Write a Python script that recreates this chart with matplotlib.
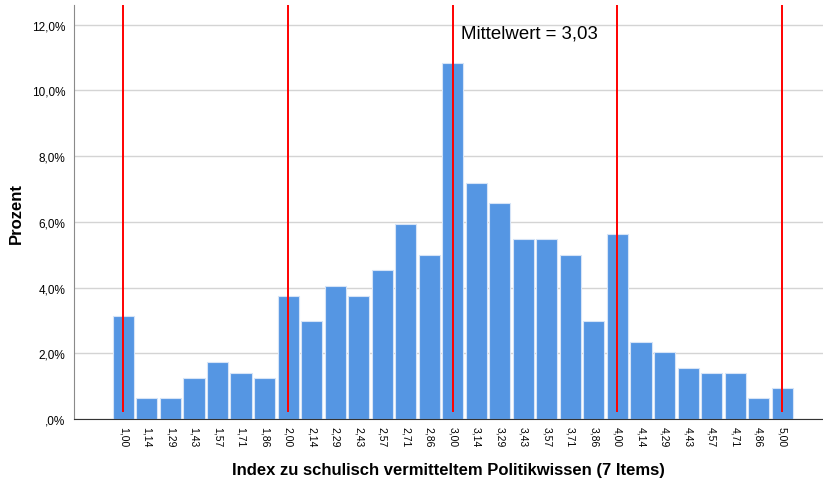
import numpy as np
import matplotlib
matplotlib.use("Agg")
import matplotlib.pyplot as plt

plt.rcParams['font.family'] = ['Liberation Sans', 'DejaVu Sans']

# index values k/7 and their labels
index_vals = [1 + k / 7 for k in range(29)]
tick_labels = ["1,00", "1,14", "1,29", "1,43", "1,57", "1,71", "1,86",
               "2,00", "2,14", "2,29", "2,43", "2,57", "2,71", "2,86",
               "3,00", "3,14", "3,29", "3,43", "3,57", "3,71", "3,86",
               "4,00", "4,14", "4,29", "4,43", "4,57", "4,71", "4,86", "5,00"]
percent = [3.13, 0.63, 0.63, 1.25, 1.72, 1.41, 1.25,
           3.75, 2.97, 4.06, 3.75, 4.53, 5.94, 5.00,
           10.84, 7.19, 6.56, 5.47, 5.47, 5.00, 2.97,
           5.63, 2.34, 2.03, 1.56, 1.41, 1.41, 0.63, 0.94]
ref_lines = [1, 2, 3, 4, 5]
mean_val = 3.03
y_ticks = [0, 2, 4, 6, 8, 10, 12]
y_tick_labels = [",0%", "2,0%", "4,0%", "6,0%", "8,0%", "10,0%", "12,0%"]

fig = plt.figure(figsize=(8.23, 4.81), dpi=100)
ax = fig.add_axes([0.0899, 0.1268, 0.9095, 0.8607])

ax.bar(index_vals, percent, width=0.128, color='#5596e3',
       edgecolor='#d6e4f7', linewidth=0.8, zorder=2)

ymax = 12.6
ax.vlines(ref_lines, 0.2, ymax, color='red', linewidth=1.4, zorder=3)
ax.text(mean_val + 0.02, 11.75, "Mittelwert = 3,03", fontsize=13.4,
        ha='left', va='center', zorder=4)

ax.set_xlim(0.70, 5.245)
ax.set_ylim(0, ymax)

ax.set_xticks(index_vals)
ax.set_xticklabels(tick_labels, rotation=270, fontsize=7.5)
ax.tick_params(axis='x', length=0, pad=5)
ax.set_yticks(y_ticks)
ax.set_yticklabels(y_tick_labels, fontsize=8.5)
ax.tick_params(axis='y', length=0, pad=6)

ax.grid(axis='y', color='#d4d4d4', linewidth=1.0, zorder=0)
ax.set_axisbelow(True)

for s in ['top', 'right']:
    ax.spines[s].set_visible(False)
ax.spines['left'].set_color('#8a8a8a')
ax.spines['bottom'].set_color('#333333')

ax.set_ylabel("Prozent", fontsize=12, fontweight='bold', labelpad=6)
ax.set_xlabel("Index zu schulisch vermitteltem Politikwissen (7 Items)",
              fontsize=12, fontweight='bold', labelpad=11)

fig.savefig("out.png", dpi=100)
